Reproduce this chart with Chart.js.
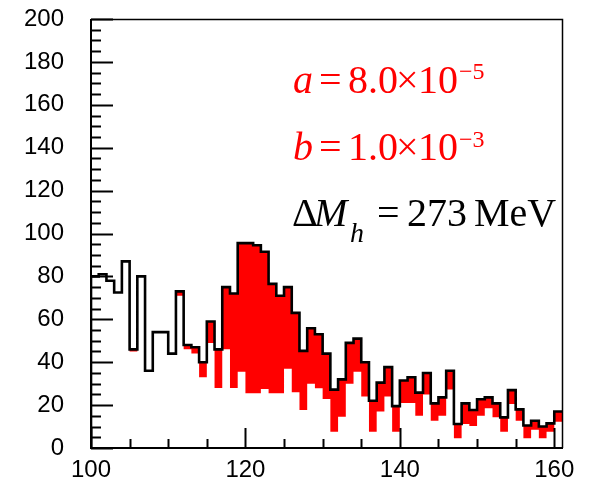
<!DOCTYPE html>
<html>
<head>
<meta charset="utf-8">
<script src="https://cdn.jsdelivr.net/npm/chart.js@4.4.0/dist/chart.umd.min.js"></script>
<style>
  body { margin: 0; background: #fff; }
  #wrap { width: 589px; height: 481px; }
</style>
</head>
<body>
<div id="wrap"><canvas id="histChart" width="589" height="481"></canvas></div>
<script>
// histogram bins: 1 GeV wide, 100 .. 161
var binStart = 100;
var binWidth = 1;

// signal + background (black outline, red where above background)
var totalCounts = [
  80, 81, 78, 72.5, 87, 46, 80, 36, 54, 54,
  44, 73, 48, 47, 40, 59, 46, 75, 72, 95.5,
  95.5, 94.5, 91.5, 76.5, 71, 75, 63, 45.3, 55.8, 53,
  44, 27.2, 32, 49, 51, 40, 22, 30.5, 37.7, 19.5,
  31.5, 33, 25.8, 35, 20.8, 23.6, 36, 11.2, 20.8, 17.7,
  22.7, 23.6, 20.8, 14.3, 27, 18, 10.5, 12.7, 10, 11.5,
  17
];

// background only (white)
var backgroundCounts = [
  80, 81, 78, 72.5, 87, 45, 80, 36, 54, 54,
  44, 71, 46, 44, 33, 49, 28, 46, 28, 35.5,
  25.5, 25.5, 27.5, 25.5, 25.5, 37, 26, 17.7, 30, 27.8,
  22.8, 7.6, 14.6, 30, 35.6, 24, 7.6, 17, 24, 7.6,
  21, 21, 15, 25, 12.7, 15, 27.3, 4.5, 11.2, 10.3,
  15, 18.5, 14.3, 7.6, 20.5, 12.7, 4.5, 8.5, 4.5, 7.6,
  12.2
];

var xTickLabels = [100, 120, 140, 160];
var yTickLabels = [0, 20, 40, 60, 80, 100, 120, 140, 160, 180, 200];
var minorStep = 5;

// turn bin contents into step points (left edge of each bin + closing edge)
function toSteps(counts) {
    var pts = [{ x: binStart, y: 0 }];
    for (var i = 0; i < counts.length; i++) {
        pts.push({ x: binStart + i * binWidth, y: counts[i] });
    }
    pts.push({ x: binStart + counts.length * binWidth, y: counts[counts.length - 1] });
    return pts;
}

var xMax = binStart + totalCounts.length * binWidth;

function put(ctx, text, x, y, font, color) {
    ctx.font = font;
    ctx.fillStyle = color;
    ctx.fillText(text, x, y);
}

// no extra room for overhanging tick labels
function noPad(scale) {
    scale.paddingTop = 0;
    scale.paddingBottom = 0;
    scale.paddingLeft = 0;
    scale.paddingRight = 0;
}

var decorations = {
    id: 'decorations',
    afterDraw: function(chart) {
        var ctx = chart.ctx;
        var a = chart.chartArea;
        var xs = chart.scales.x;
        var ys = chart.scales.y;
        ctx.save();
        ctx.strokeStyle = '#000';

        // y ticks, drawn inward
        ctx.lineWidth = 2;
        for (var v = yTickLabels[0]; v <= yTickLabels[yTickLabels.length - 1]; v += minorStep) {
            var py = Math.round(ys.getPixelForValue(v)) + 0.5;
            var len = yTickLabels.indexOf(v) >= 0 ? 22 : 10;
            ctx.beginPath();
            ctx.moveTo(a.left, py);
            ctx.lineTo(a.left + len, py);
            ctx.stroke();
        }
        // x ticks
        for (var t = binStart; t <= xTickLabels[xTickLabels.length - 1]; t += minorStep) {
            var px = Math.round(xs.getPixelForValue(t)) + 0.5;
            var l = xTickLabels.indexOf(t) >= 0 ? 20 : 9;
            ctx.beginPath();
            ctx.moveTo(px, a.bottom);
            ctx.lineTo(px, a.bottom - l);
            ctx.stroke();
        }

        // frame
        ctx.lineWidth = 2;
        ctx.beginPath();
        ctx.moveTo(a.left, a.top);
        ctx.lineTo(a.left, a.bottom);
        ctx.lineTo(a.right + 1, a.bottom);
        ctx.stroke();
        ctx.lineWidth = 1.5;
        ctx.beginPath();
        ctx.moveTo(a.left, a.top + 0.5);
        ctx.lineTo(a.right + 0.5, a.top + 0.5);
        ctx.lineTo(a.right + 0.5, a.bottom);
        ctx.stroke();

        // parameter labels
        ctx.textAlign = 'left';
        ctx.textBaseline = 'alphabetic';
        var serif = '"Liberation Serif", "Times New Roman", serif';
        var red = '#ff0000';
        put(ctx, 'a', 293, 93, 'italic 40px ' + serif, red);
        put(ctx, '=', 319, 93, '40px ' + serif, red);
        put(ctx, '8.0', 348, 93, '40px ' + serif, red);
        put(ctx, '\u00d7', 396, 93, '40px ' + serif, red);
        put(ctx, '10', 418, 93, '40px ' + serif, red);
        put(ctx, '\u22125', 459, 79, '24px ' + serif, red);

        put(ctx, 'b', 293, 160, 'italic 40px ' + serif, red);
        put(ctx, '=', 319, 160, '40px ' + serif, red);
        put(ctx, '1.0', 348, 160, '40px ' + serif, red);
        put(ctx, '\u00d7', 396, 160, '40px ' + serif, red);
        put(ctx, '10', 418, 160, '40px ' + serif, red);
        put(ctx, '\u22123', 459, 147, '24px ' + serif, red);

        put(ctx, '\u0394', 292, 226, '40px ' + serif, '#000');
        put(ctx, 'M', 314, 226, 'italic 40px ' + serif, '#000');
        put(ctx, 'h', 350, 242, 'italic 28px ' + serif, '#000');
        put(ctx, '=', 377, 226, '40px ' + serif, '#000');
        put(ctx, '273', 407, 226, '40px ' + serif, '#000');
        put(ctx, 'MeV', 474, 226, '40px ' + serif, '#000');
        ctx.restore();
    }
};

var ctx = document.getElementById('histChart').getContext('2d');
var histChart = new Chart(ctx, {
    type: 'line',
    data: {
        datasets: [{
            label: 'total fill',
            data: toSteps(totalCounts),
            stepped: 'before',
            fill: 'origin',
            backgroundColor: '#ff0000',
            borderWidth: 0,
            pointRadius: 0,
            order: 3
        }, {
            label: 'background',
            data: toSteps(backgroundCounts),
            stepped: 'before',
            fill: 'origin',
            backgroundColor: '#ffffff',
            borderWidth: 0,
            pointRadius: 0,
            order: 2
        }, {
            label: 'total',
            data: toSteps(totalCounts),
            stepped: 'before',
            fill: false,
            borderColor: '#000000',
            borderWidth: 2.6,
            pointRadius: 0,
            order: 1
        }]
    },
    options: {
        responsive: false,
        animation: false,
        layout: { padding: { left: 0, right: 27, top: 19, bottom: 0 } },
        plugins: {
            legend: { display: false },
            tooltip: { enabled: false }
        },
        scales: {
            x: {
                type: 'linear',
                min: binStart,
                max: xMax,
                grid: { display: false, drawTicks: false },
                border: { display: false },
                afterFit: function(scale) { scale.height = 33; noPad(scale); },
                afterBuildTicks: function(scale) {
                    scale.ticks = xTickLabels.map(function(v) { return { value: v }; });
                },
                ticks: {
                    padding: 8,
                    color: '#000',
                    maxRotation: 0,
                    font: { family: '"Liberation Sans", Arial, sans-serif', size: 24 }
                }
            },
            y: {
                min: 0,
                max: 200,
                grid: { display: false, drawTicks: false },
                border: { display: false },
                afterFit: function(scale) { scale.width = 91; noPad(scale); },
                afterBuildTicks: function(scale) {
                    scale.ticks = yTickLabels.map(function(v) { return { value: v }; });
                },
                ticks: {
                    padding: 27,
                    color: '#000',
                    font: { family: '"Liberation Sans", Arial, sans-serif', size: 24 }
                }
            }
        }
    },
    plugins: [decorations]
});
</script>
</body>
</html>
